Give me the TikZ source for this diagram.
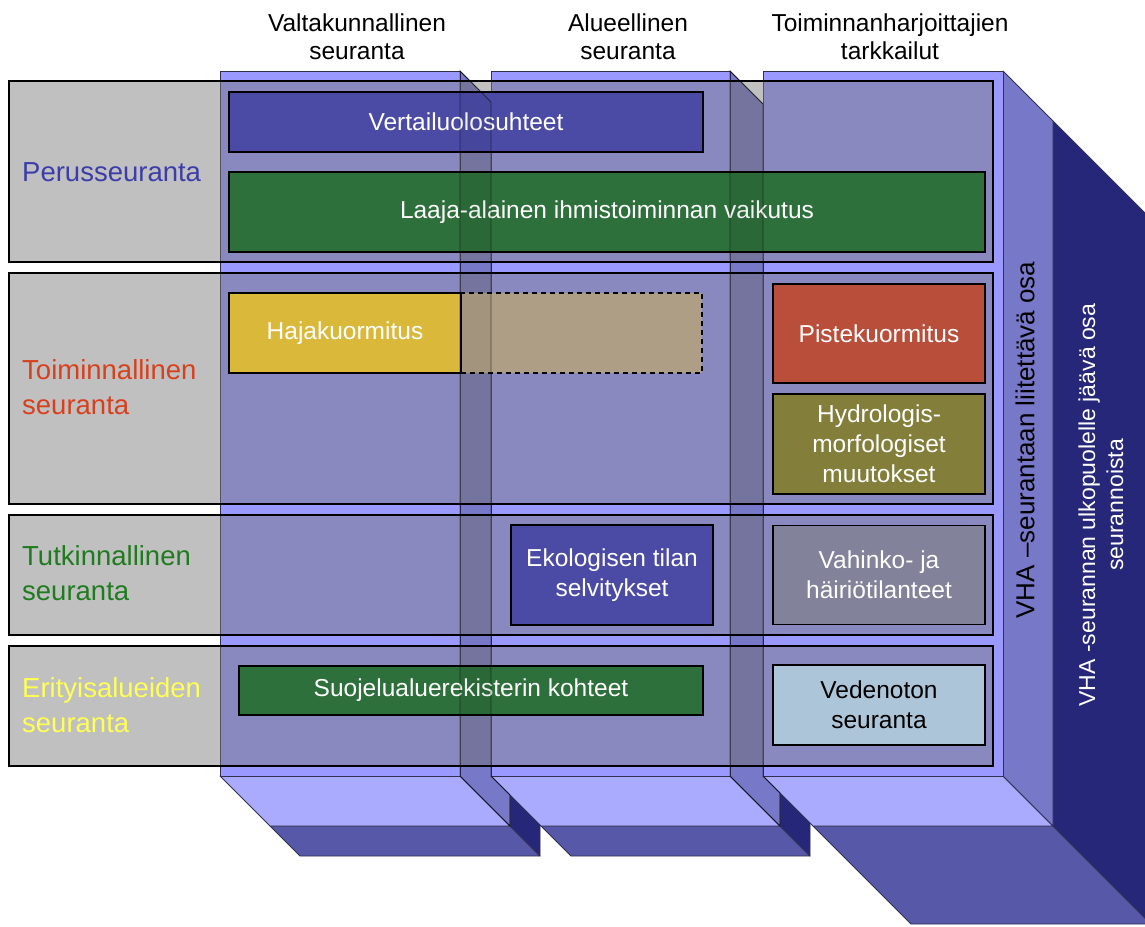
\documentclass[tikz,border=0pt]{standalone}
\usepackage{fontspec}
\setmainfont{Liberation Sans}
\definecolor{frontc}{HTML}{9999FF}
\definecolor{sidec}{HTML}{8080D5}
\definecolor{sidethree}{HTML}{7878C8}
\definecolor{bottomc}{HTML}{AAAAFF}
\definecolor{darkband}{HTML}{5858A8}
\definecolor{navy}{HTML}{27277A}
\definecolor{rowgray}{HTML}{797979}
\definecolor{boxblue}{HTML}{4B4BA6}
\definecolor{boxgreen}{HTML}{2D703B}
\definecolor{boxyellow}{HTML}{DAB83A}
\definecolor{boxtan}{HTML}{AE9E85}
\definecolor{boxred}{HTML}{B94E3A}
\definecolor{boxolive}{HTML}{837F3A}
\definecolor{boxgray}{HTML}{82829A}
\definecolor{boxlight}{HTML}{ADC5D8}
\definecolor{lblblue}{HTML}{3C3CAA}
\definecolor{lblred}{HTML}{D8401C}
\definecolor{lblgreen}{HTML}{1E7B1E}
\definecolor{lblyellow}{HTML}{FFFF55}
\definecolor{edgec}{HTML}{303050}
\begin{document}
\begin{tikzpicture}[x=1pt,y=-1pt,
  face/.style={draw=edgec, line width=0.9pt, line join=round},
  rowband/.style={draw=black, line width=1.3pt, fill=rowgray, fill opacity=0.47, inner sep=0pt, outer sep=0pt},
  rowlabel/.style={anchor=west, align=left, inner sep=0pt, font=\fontsize{27.5}{35}\selectfont},
  box/.style={draw=black, line width=1.8pt, inner sep=0pt, outer sep=0pt, align=center, text=white, font=\fontsize{24.5}{30}\selectfont},
  header/.style={align=center, inner sep=0pt, font=\fontsize{24.5}{28}\selectfont},
  strip/.style={fill=black, fill opacity=0.06, draw=black, draw opacity=0.5, line width=0.9pt}
]
\useasboundingbox (0,0) rectangle (1145,926);
\clip (0,0) rectangle (1145,926);

% ---------- column 1 ----------
\filldraw[face, fill=darkband] (270,826) -- (510,826) -- (540,856) -- (300,856) -- cycle;
\filldraw[face, fill=navy] (510,121) -- (540,151) -- (540,856) -- (510,826) -- cycle;
\filldraw[face, fill=bottomc] (220,776) -- (460,776) -- (510,826) -- (270,826) -- cycle;
\filldraw[face, fill=sidec] (460,71) -- (510,121) -- (510,826) -- (460,776) -- cycle;
\filldraw[face, fill=frontc] (220,71) rectangle (460,776);

% ---------- column 2 ----------
\filldraw[face, fill=darkband] (541,826) -- (780,826) -- (810,856) -- (571,856) -- cycle;
\filldraw[face, fill=navy] (780,121) -- (810,151) -- (810,856) -- (780,826) -- cycle;
\filldraw[face, fill=bottomc] (491,776) -- (730,776) -- (780,826) -- (541,826) -- cycle;
\filldraw[face, fill=sidec] (730,71) -- (780,121) -- (780,826) -- (730,776) -- cycle;
\filldraw[face, fill=frontc] (491,71) rectangle (730,776);

% ---------- column 3 ----------
\filldraw[face, fill=darkband] (813,826) -- (1053,826) -- (1151,924) -- (911,924) -- cycle;
\filldraw[face, fill=navy] (1053,121) -- (1151,219) -- (1151,924) -- (1053,826) -- cycle;
\filldraw[face, fill=bottomc] (763,776) -- (1003,776) -- (1053,826) -- (813,826) -- cycle;
\filldraw[face, fill=sidethree] (1003,71) -- (1053,121) -- (1053,826) -- (1003,776) -- cycle;
\filldraw[face, fill=frontc] (763,71) rectangle (1003,776);

% ---------- rows ----------
\node[rowband, minimum width=984, minimum height=181] (row1) at (501,171.5) {};
\node[rowband, minimum width=984, minimum height=231] (row2) at (501,388.5) {};
\node[rowband, minimum width=984, minimum height=120] (row3) at (501,575) {};
\node[rowband, minimum width=984, minimum height=120] (row4) at (501,706) {};

\node[rowlabel, text=lblblue] (lbl1) at (22,172) {Perusseuranta};
\node[rowlabel, text=lblred] (lbl2) at (22,387) {Toiminnallinen\\seuranta};
\node[rowlabel, text=lblgreen] (lbl3) at (22,573) {Tutkinnallinen\\seuranta};
\node[rowlabel, text=lblyellow] (lbl4) at (22,705) {Erityisalueiden\\seuranta};

% ---------- boxes ----------
\node[box, fill=boxblue, minimum width=474, minimum height=60] (vert) at (466,122) {Vertailuolosuhteet};
\node[box, fill=boxgreen, minimum width=756, minimum height=80] (laaja) at (607,212) {Laaja-alainen ihmistoiminnan vaikutus};
\node[box, fill=boxtan, dashed, dash pattern=on 5pt off 4pt, minimum width=241, minimum height=80] (hajad) at (581.5,333) {};
\node[box, fill=boxyellow, minimum width=232, minimum height=80] (haja) at (345,333) {Hajakuormitus};
\node[box, fill=boxblue, minimum width=202, minimum height=100] (eko) at (612,575) {Ekologisen tilan\\selvitykset};
\node[box, fill=boxred, minimum width=212, minimum height=99] (piste) at (879,333.5) {Pistekuormitus};
\node[box, fill=boxolive, minimum width=212, minimum height=100] (hydro) at (879,444) {Hydrologis-\\morfologiset\\muutokset};
\node[box, fill=boxgray, minimum width=212, minimum height=99] (vahinko) at (879,575) {Vahinko- ja\\häiriötilanteet};
\node[box, fill=boxgreen, minimum width=464, minimum height=49] (suoj) at (471,690.5) {Suojelualuerekisterin kohteet};
\node[box, fill=boxlight, text=black, minimum width=212, minimum height=80] (veden) at (879,705) {Vedenoton\\seuranta};

% ---------- side strips (seen through) ----------
\filldraw[strip] (460,71) -- (491,102) -- (491,776) -- (510,795) -- (510,826) -- (460,776) -- cycle;
\filldraw[strip] (730,71) -- (763,104) -- (763,776) -- (780,793) -- (780,826) -- (730,776) -- cycle;

% ---------- headers ----------
\node[header] (h1) at (357,37) {Valtakunnallinen\\seuranta};
\node[header] (h2) at (628,37) {Alueellinen\\seuranta};
\node[header] (h3) at (890,37) {Toiminnanharjoittajien\\tarkkailut};

% ---------- vertical labels ----------
\node[rotate=90, inner sep=0pt, font=\fontsize{26}{30}\selectfont] (vha1) at (1025,440) {VHA –seurantaan liitettävä osa};
\node[rotate=90, inner sep=0pt, align=center, text=white, font=\fontsize{23}{28}\selectfont] (vha2) at (1101,505) {VHA -seurannan ulkopuolelle jäävä osa\\seurannoista};
\end{tikzpicture}
\end{document}
